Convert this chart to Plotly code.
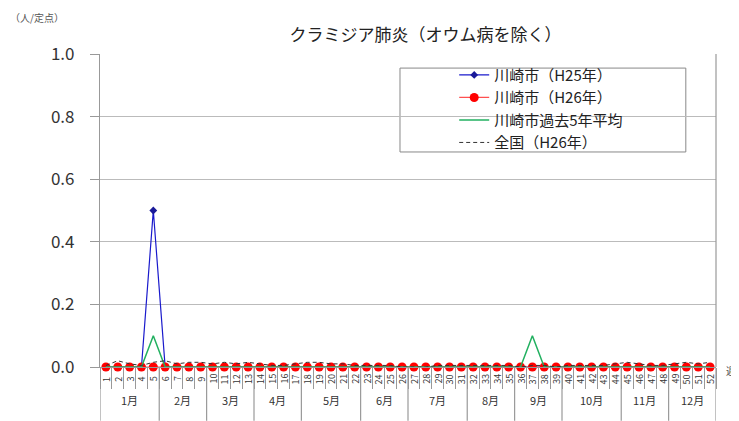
import plotly.graph_objects as go

weeks = list(range(1, 53))
h25 = [0, 0, 0, 0, 0.5] + [0] * 47
h26 = [0] * 52
avg5 = [0, 0, 0, 0, 0.1] + [0] * 31 + [0.1] + [0] * 15
national = [0.005, 0.02, 0.01, 0.005, 0.015, 0.02, 0.01, 0.015, 0.015, 0.01,
            0.015, 0.01, 0.015, 0.01, 0.005, 0.005, 0.01, 0.015, 0.015, 0.01,
            0.01, 0.005, 0.005, 0.005, 0.005, 0.0, 0.0, 0.0, 0.005, 0.005,
            0.005, 0.005, 0.005, 0.005, 0.005, 0.0, 0.005, 0.005, 0.0, 0.005,
            0.005, 0.005, 0.005, 0.01, 0.015, 0.01, 0.005, 0.005, 0.01, 0.015,
            0.01, 0.015]
week_labels = [str(w) for w in weeks]
months = ["1月", "2月", "3月", "4月", "5月", "6月", "7月", "8月", "9月", "10月", "11月", "12月"]
month_weeks = [5, 4, 4, 4, 5, 4, 5, 4, 4, 5, 4, 4]
y_ticks = [0, 0.2, 0.4, 0.6, 0.8, 1.0]

FONT = "Noto Sans CJK JP"
fig = go.Figure()
fig.add_trace(go.Scatter(x=weeks, y=h25, mode="lines+markers", name="川崎市（H25年）",
                         line=dict(color="#1a1acc", width=1.2),
                         marker=dict(symbol="diamond", size=6, color="#1a1a99"), cliponaxis=False))
fig.add_trace(go.Scatter(x=weeks, y=h26, mode="lines+markers", name="川崎市（H26年）",
                         line=dict(color="#ff5050", width=1.2),
                         marker=dict(symbol="circle", size=9, color="#ff0000"), cliponaxis=False))
fig.add_trace(go.Scatter(x=weeks, y=avg5, mode="lines", name="川崎市過去5年平均",
                         line=dict(color="#22b060", width=1.5), cliponaxis=False))
fig.add_trace(go.Scatter(x=weeks, y=national, mode="lines", name="全国（H26年）",
                         line=dict(color="#333333", width=1, dash="4px,3px"), cliponaxis=False))

# month boundaries
bounds = [0.5]
for n in month_weeks:
    bounds.append(bounds[-1] + n)
shapes = []
for b in bounds:
    shapes.append(dict(type="line", xref="x", yref="paper", x0=b, x1=b, y0=0, y1=-0.172,
                       line=dict(color="#999999", width=1.2)))
# legend box
shapes.append(dict(type="rect", xref="paper", yref="paper", x0=0.487, x1=0.951, y0=0.687, y1=0.955,
                   line=dict(color="#888888", width=1), fillcolor="white", layer="below"))
annotations = []
for w, t in zip(weeks, week_labels):
    annotations.append(dict(x=w, y=0, xref="x", yref="paper", text=t, showarrow=False,
                            textangle=-90, yanchor="middle", yshift=-12,
                            font=dict(family=FONT, size=9, color="#333333")))
for i, m in enumerate(months):
    c = (bounds[i] + bounds[i + 1]) / 2
    annotations.append(dict(x=c, y=-0.137, xref="x", yref="paper", text=m, showarrow=False,
                            font=dict(family=FONT, size=11, color="#333333")))
annotations.append(dict(x=52.5, y=-0.04, xref="x", yref="paper", text="週", showarrow=False,
                        xanchor="left", xshift=8, font=dict(family=FONT, size=10, color="#444444")))
annotations.append(dict(xref="paper", yref="paper", x=-0.149, y=1.118, text="（人/定点）",
                        showarrow=False, xanchor="left", yanchor="middle",
                        font=dict(family=FONT, size=10, color="#555555")))

fig.update_layout(
    width=731, height=413,
    margin=dict(l=92, r=23, t=46, b=54),
    paper_bgcolor="white", plot_bgcolor="white",
    title=dict(text="クラミジア肺炎（オウム病を除く）", x=0.571, xanchor="center", y=0.935, yanchor="middle",
               font=dict(family=FONT, size=17, color="#222222")),
    font=dict(family=FONT),
    showlegend=True,
    legend=dict(x=0.575, y=0.985, xanchor="left", yanchor="top", bgcolor="rgba(0,0,0,0)",
                borderwidth=0, font=dict(family=FONT, size=15, color="#222222"),
                tracegroupgap=0, itemwidth=30),
    shapes=shapes, annotations=annotations,
)
fig.update_xaxes(range=[0.5, 52.5], tickvals=weeks, showticklabels=False, ticks="",
                 showline=True, linecolor="#999999", linewidth=1.2, showgrid=False, zeroline=False,
                 minor=dict(tickvals=[w + 0.5 for w in range(0, 53)], ticks="outside", ticklen=21,
                            tickcolor="#999999", tickwidth=1, showgrid=False))
fig.update_yaxes(range=[0, 1.0], tickvals=y_ticks, tickformat=".1f", ticks="outside", ticklen=9,
                 tickcolor="#999999", tickfont=dict(family=FONT, size=17, color="#333333"),
                 ticklabelstandoff=12,
                 showline=True, linecolor="#999999", linewidth=1.2, showgrid=True,
                 gridcolor="#bbbbbb", gridwidth=1, zeroline=False)
fig.add_shape(type="line", xref="paper", yref="paper", x0=1, x1=1, y0=0, y1=1,
              line=dict(color="#999999", width=1.2))
fig.write_html("out.html")
